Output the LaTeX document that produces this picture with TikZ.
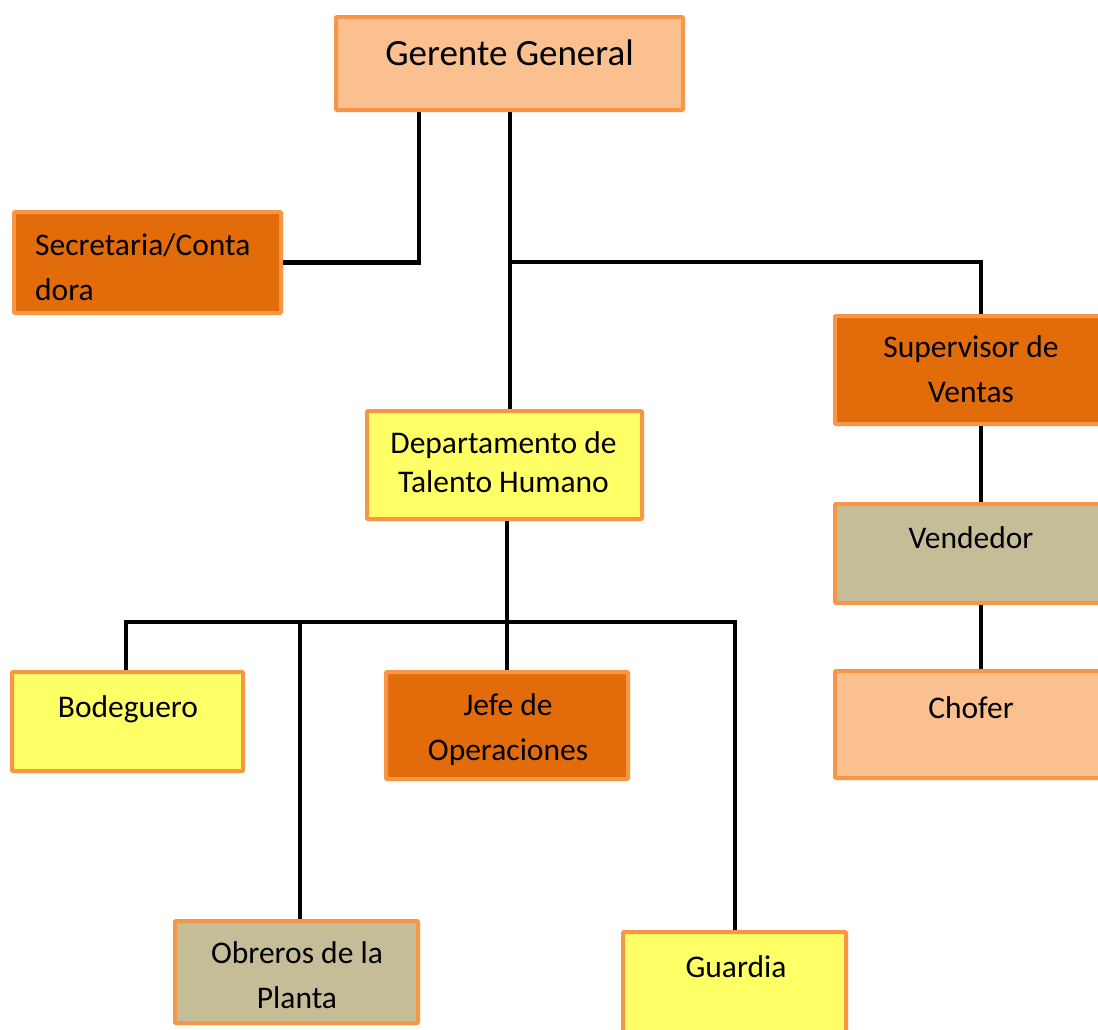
\documentclass[tikz,border=0pt]{standalone}
\usepackage{fontspec}
\setmainfont{Carlito}
\definecolor{bord}{HTML}{F79646}
\definecolor{peach}{HTML}{FAC090}
\definecolor{dark}{HTML}{E36C0A}
\definecolor{yel}{HTML}{FFFF66}
\definecolor{khaki}{HTML}{C4BD97}
\tikzset{
  box/.style={draw=bord, line width=4pt, rectangle, inner sep=0pt, rounded corners=1pt},
  txt/.style={inner sep=0pt, anchor=base, font=\fontsize{31.5}{38}\selectfont},
  bigtxt/.style={inner sep=0pt, anchor=base, font=\fontsize{37}{44}\selectfont},
  conn/.style={draw=black, line width=4.5pt, line join=miter}
}
\begin{document}
\begin{tikzpicture}[x=1pt,y=-1pt]
\clip (0,0) rectangle (1098,1029);
\fill[white] (0,0) rectangle (1098,1029);
% boxes
\node[box, fill=peach, minimum width=347pt, minimum height=93pt] (gg) at (509.5,63.5) {};
\node[box, fill=dark, minimum width=267pt, minimum height=101pt] (sec) at (147.5,262.5) {};
\node[box, fill=dark, minimum width=267pt, minimum height=108pt] (sup) at (968.5,370) {};
\node[box, fill=yel, minimum width=275pt, minimum height=108pt] (dept) at (504.5,465) {};
\node[box, fill=khaki, minimum width=267pt, minimum height=99pt] (ven) at (968.5,553.5) {};
\node[box, fill=peach, minimum width=267pt, minimum height=107pt] (cho) at (968.5,724.5) {};
\node[box, fill=yel, minimum width=231pt, minimum height=99pt] (bod) at (127.5,721.5) {};
\node[box, fill=dark, minimum width=242pt, minimum height=107pt] (jefe) at (507,725.5) {};
\node[box, fill=khaki, minimum width=243pt, minimum height=102pt] (obr) at (296.5,972) {};
\node[box, fill=yel, minimum width=223pt, minimum height=106pt] (gua) at (734.5,985) {};
% texts
\node[bigtxt] (ggt) at (509.5,65) {Gerente General};
\node[txt, anchor=base west] (sect1) at (35,255) {Secretaria/Conta};
\node[txt, anchor=base west] (sect2) at (35,300) {dora};
\node[txt] (supt1) at (971,357) {Supervisor de};
\node[txt] (supt2) at (971,402) {Ventas};
\node[txt] (deptt1) at (503.5,453) {Departamento de};
\node[txt] (deptt2) at (503.5,492) {Talento Humano};
\node[txt] (vent) at (971,548) {Vendedor};
\node[txt] (chot) at (971,718) {Chofer};
\node[txt] (bodt) at (128,717) {Bodeguero};
\node[txt] (jefet1) at (508,715) {Jefe de};
\node[txt] (jefet2) at (508,760) {Operaciones};
\node[txt] (obrt1) at (297,963) {Obreros de la};
\node[txt] (obrt2) at (297,1008) {Planta};
\node[txt] (guat) at (736,977) {Guardia};
% junctions
\coordinate (j1) at (510,262);
\coordinate (busL) at (126,622);
\coordinate (busR) at (735,622);
\coordinate (busM) at (507,622);
\coordinate (busO) at (300,622);
% connectors
\draw[conn] (gg.south -| 419,0) |- (sec.east);
\draw[conn] (gg.south -| 510,0) -- (dept.north -| 510,0);
\draw[conn] (j1) -| (sup.north -| 981,0);
\draw[conn] (sup.south -| 981,0) -- (ven.north -| 981,0);
\draw[conn] (ven.south -| 981,0) -- (cho.north -| 981,0);
\draw[conn] (dept.south -| busM) -- (busM);
\draw[conn] (bod.north -| busL) |- (busR) -- (gua.north -| busR);
\draw[conn] (busO) -- (obr.north -| busO);
\draw[conn] (busM) -- (jefe.north -| busM);
\end{tikzpicture}
\end{document}
